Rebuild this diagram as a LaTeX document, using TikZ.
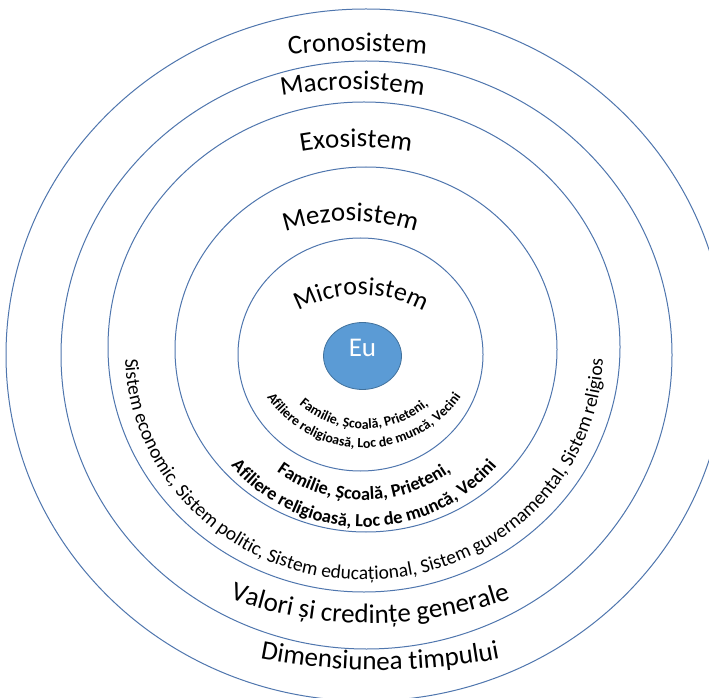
\documentclass[tikz,border=0pt]{standalone}
\usepackage{fontspec}
\setmainfont{Carlito}
\definecolor{ecoRing}{HTML}{4F76AE}
\definecolor{ecoFill}{HTML}{5B9BD5}
\definecolor{ecoEdge}{HTML}{41719C}
\usetikzlibrary{decorations.text,shapes.geometric}

\newcommand\ringfont{\fontsize{27}{32}\selectfont}
\newcommand\microfont{\fontsize{26}{31}\selectfont}
\newcommand\sysfont{\fontsize{19.5}{23}\selectfont}
\newcommand\mesofont{\bfseries\fontsize{18.4}{22}\selectfont}
\newcommand\innerfont{\bfseries\fontsize{13.9}{16}\selectfont}

\tikzset{
  ring/.style={draw=ecoRing, line width=1pt},
  arclabel/.style={decorate, decoration={text along path, text align=center, text={#1}}},
}

\begin{document}
\begin{tikzpicture}[x=1pt, y=1pt]
  % Canvas
  \path[use as bounding box, fill=white] (0,0) rectangle (709,697);

  % Rings, outer to inner
  \draw[ring] (366,342) ellipse [x radius=360, y radius=346];
  \draw[ring] (366.5,342) ellipse [x radius=305.5, y radius=294];
  \draw[ring] (364,350) ellipse [x radius=256, y radius=245];
  \draw[ring] (366,347.5) ellipse [x radius=191, y radius=182.5];
  \draw[ring] (360.5,342.5) ellipse [x radius=122.5, y radius=116.5];

  % Centre
  \node[ellipse, fill=ecoFill, draw=ecoEdge, line width=0.8pt, minimum width=78, minimum height=67,
        text=white, font=\ringfont, text depth=16pt] (eu) at (362.5,341) {Eu};

  % Ring names, top
  \path[shift={(357.5,-54)}, arclabel={|\ringfont|Cronosistem}] (100:700) arc[start angle=100, end angle=80, radius=700];
  \path[shift={(352.5,205.5)}, arclabel={|\ringfont|Macrosistem}] (105:402) arc[start angle=105, end angle=75, radius=402];
  \path[shift={(356,234)}, arclabel={|\ringfont|Exosistem}] (110:316) arc[start angle=110, end angle=70, radius=316];
  \path[shift={(350.5,266)}, arclabel={|\ringfont|Mezosistem}] (115:210) arc[start angle=115, end angle=65, radius=210];
  \path[shift={(361,272)}, arclabel={|\microfont|Microsistem}] (140:130) arc[start angle=140, end angle=40, radius=130];

  % Microsistem contents
  \path[shift={(364,367)}, arclabel={|\innerfont|Familie, Școală, Prieteni,}] (200:99) arc[start angle=200, end angle=340, radius=99];
  \path[shift={(364,367)}, arclabel={|\innerfont|Afiliere religioasă, Loc de muncă, Vecini}] (200:118) arc[start angle=200, end angle=340, radius=118];

  % Mezosistem contents
  \path[shift={(364,345)}, arclabel={|\mesofont|Familie, Școală, Prieteni,}] (200:148) arc[start angle=200, end angle=340, radius=148];
  \path[shift={(364,345)}, arclabel={|\mesofont|Afiliere religioasă, Loc de muncă, Vecini}] (200:175) arc[start angle=200, end angle=340, radius=175];

  % Exosistem contents
  \path[shift={(364,345)}, arclabel={|\sysfont|Sistem economic, Sistem politic, Sistem educațional, Sistem guvernamental, Sistem religios}]
    (170:239 and 228) arc[start angle=170, end angle=370, x radius=239, y radius=228];

  % Ring names, bottom
  \path[shift={(370,494)}, arclabel={|\ringfont|Valori și credințe generale}] (245:420) arc[start angle=245, end angle=295, radius=420];
  \path[shift={(380,653)}, arclabel={|\ringfont|Dimensiunea timpului}] (255:626) arc[start angle=255, end angle=285, radius=626];
\end{tikzpicture}
\end{document}
